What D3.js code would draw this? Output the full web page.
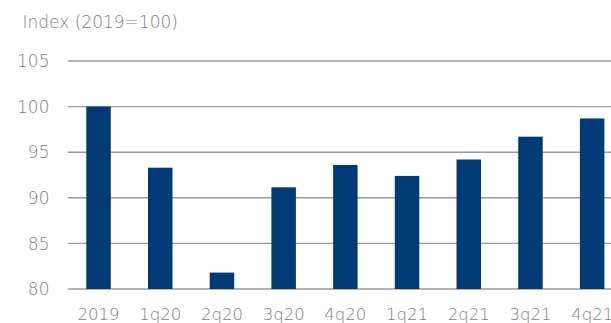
<!DOCTYPE html>
<html>
<head>
<meta charset="utf-8">
<script src="https://cdn.jsdelivr.net/npm/d3@7"></script>
<style>
  html, body { margin: 0; padding: 0; background: #fff; }
  svg { display: block; }
  text { font-family: "DejaVu Sans", sans-serif; font-weight: 200; fill: #7d7d7d; }
</style>
</head>
<body>
<svg id="chart" width="611" height="323"></svg>
<script>
// Activity index by period, 2019 = 100
const categories = ["2019", "1q20", "2q20", "3q20", "4q20", "1q21", "2q21", "3q21", "4q21"];
const values = [100, 93.3, 81.8, 91.15, 93.6, 92.4, 94.2, 96.7, 98.7];
const yTicks = [80, 85, 90, 95, 100, 105];
const yTitle = "Index (2019=100)";

const svg = d3.select("#chart");
const W = 611;
const plotLeft = 67.7, plotBottom = 289, plotTop = 61;

const y = d3.scaleLinear().domain([80, 105]).range([plotBottom, plotTop]);
const x = d3.scaleBand()
  .domain(categories)
  .range([plotLeft, plotLeft + 61.7 * categories.length])
  .paddingInner(0.603)
  .paddingOuter(0.3015);

// horizontal gridlines
svg.append("g")
  .selectAll("line")
  .data(yTicks)
  .join("line")
  .attr("x1", plotLeft)
  .attr("x2", W)
  .attr("y1", d => y(d))
  .attr("y2", d => y(d))
  .attr("stroke", "#9a9a9a")
  .attr("stroke-width", 1.4);

// y tick labels
svg.append("g")
  .selectAll("text")
  .data(yTicks)
  .join("text")
  .attr("x", 49.5)
  .attr("y", d => y(d))
  .attr("dy", "0.36em")
  .attr("text-anchor", "end")
  .attr("font-size", 17)
  .text(d => d);

// bars
svg.append("g")
  .selectAll("rect")
  .data(categories)
  .join("rect")
  .attr("x", d => x(d))
  .attr("width", x.bandwidth())
  .attr("y", (d, i) => y(values[i]))
  .attr("height", (d, i) => y(80) - y(values[i]))
  .attr("fill", "#023a78");

// x labels
svg.append("g")
  .selectAll("text")
  .data(categories)
  .join("text")
  .attr("x", d => x(d) + x.bandwidth() / 2)
  .attr("y", 320)
  .attr("text-anchor", "middle")
  .attr("font-size", 16.5)
  .text(d => d);

// axis title
svg.append("text")
  .attr("x", 22.5)
  .attr("y", 27.5)
  .attr("font-size", 17)
  .text(yTitle);
</script>
</body>
</html>
